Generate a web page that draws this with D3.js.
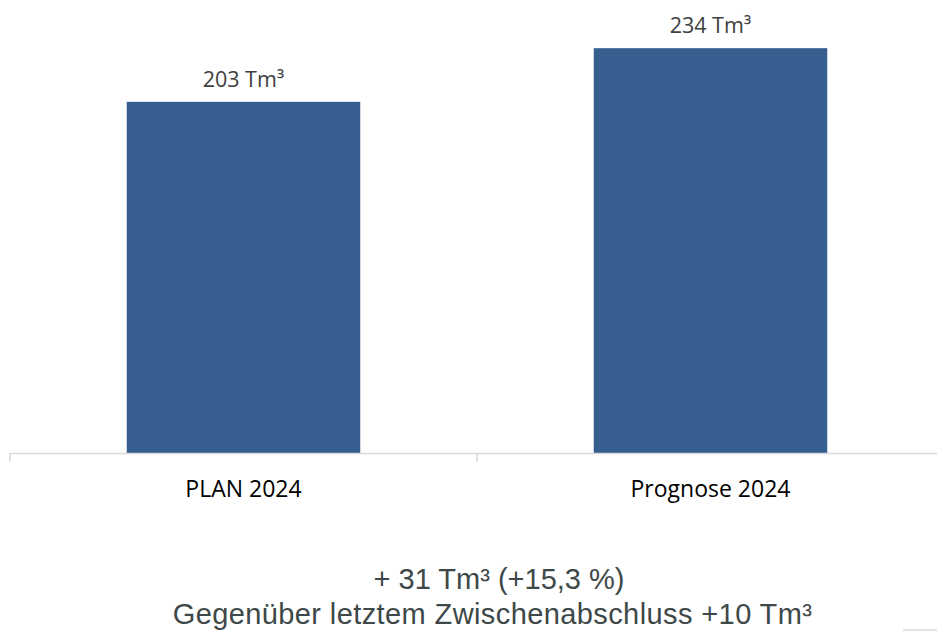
<!DOCTYPE html>
<html>
<head>
<meta charset="utf-8">
<script src="https://cdn.jsdelivr.net/npm/d3@7"></script>
<style>
  html, body { margin: 0; padding: 0; background: #fff; }
  svg { display: block; }
</style>
</head>
<body>
<svg id="chart" width="937" height="631"></svg>
<script>
const categories = ["PLAN 2024", "Prognose 2024"];
const values = [203, 234];
const valueLabels = ["203 Tm³", "234 Tm³"];
const summaryLines = ["+ 31 Tm³ (+15,3 %)", "Gegenüber letztem Zwischenabschluss +10 Tm³"];

const svg = d3.select("#chart");
const baseY = 453;

const x = d3.scaleBand().domain(categories).range([10, 944]).paddingInner(0.5).paddingOuter(0.25);
const xAxisScale = d3.scaleBand().domain(categories).range([10, 944]).padding(0);
const y = d3.scaleLinear().domain([0, 250]).range([baseY, 20.5]);

// bars
svg.selectAll("rect.bar").data(values).join("rect")
  .attr("class", "bar")
  .attr("x", (d, i) => x(categories[i]))
  .attr("width", x.bandwidth())
  .attr("y", d => y(d))
  .attr("height", d => y(0) - y(d))
  .attr("fill", "#365f8f");

// value labels
svg.selectAll("text.val").data(values).join("text")
  .attr("class", "val")
  .attr("x", (d, i) => x(categories[i]) + x.bandwidth() / 2)
  .attr("y", d => y(d) - 15)
  .attr("text-anchor", "middle")
  .attr("font-family", "'Open Sans', sans-serif")
  .attr("font-size", 21.5)
  .attr("fill", "#404040")
  .text((d, i) => valueLabels[i]);

// axis
const axis = d3.axisBottom(xAxisScale).tickSize(0).tickSizeOuter(0).tickPadding(0);
const gAxis = svg.append("g").attr("transform", `translate(0,${baseY})`).call(axis);
gAxis.select(".domain").attr("stroke", "#d9d9d9").attr("stroke-width", 1.5);
gAxis.selectAll(".tick text")
  .attr("y", 44)
  .attr("dy", 0)
  .attr("font-family", "'Open Sans', sans-serif")
  .attr("font-size", 23)
  .attr("fill", "#000");

// boundary ticks
const bounds = categories.map(c => xAxisScale(c)).concat([xAxisScale.range()[1]]);
gAxis.selectAll("line.bound").data(bounds).join("line")
  .attr("class", "bound")
  .attr("x1", d => d).attr("x2", d => d)
  .attr("y1", 0).attr("y2", 9)
  .attr("stroke", "#d9d9d9").attr("stroke-width", 1.5);

// summary text
const summaryX = [499, 492.5];
const summaryY = [589, 624];
const summarySpacing = [0, 0.4];
svg.selectAll("text.sum").data(summaryLines).join("text")
  .attr("class", "sum")
  .attr("x", (d, i) => summaryX[i])
  .attr("y", (d, i) => summaryY[i])
  .attr("text-anchor", "middle")
  .attr("font-family", "'Liberation Sans', Arial, sans-serif")
  .attr("font-size", 29)
  .attr("letter-spacing", (d, i) => summarySpacing[i])
  .attr("fill", "#3e4848")
  .text(d => d);

// small decorative line bottom right
svg.append("line")
  .attr("x1", 903).attr("x2", 937).attr("y1", 630).attr("y2", 630)
  .attr("stroke", "#d9d9d9").attr("stroke-width", 1.5);
</script>
</body>
</html>
